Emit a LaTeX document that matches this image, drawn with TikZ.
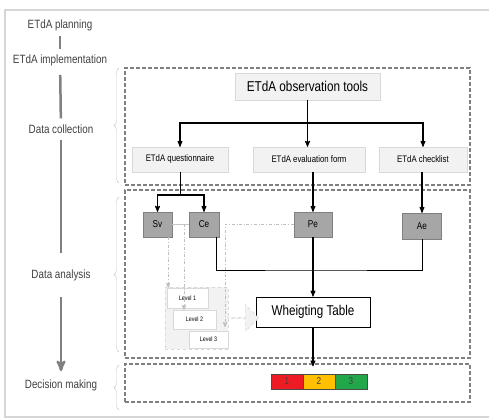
\documentclass[tikz,border=0pt]{standalone}
\usepackage{fontspec}
\setmainfont{Liberation Sans}[FakeStretch=0.82]
\usetikzlibrary{arrows,shapes,positioning,decorations.pathreplacing}

\definecolor{boxgray}{HTML}{F2F2F2}
\definecolor{boxline}{HTML}{D9D9D9}
\definecolor{darkbox}{HTML}{A6A6A6}
\definecolor{textgray}{HTML}{404040}
\definecolor{framegray}{HTML}{D6D6D6}
\definecolor{redcell}{HTML}{ED1C24}
\definecolor{yellowcell}{HTML}{FFC000}
\definecolor{greencell}{HTML}{22A84A}

\tikzset{
  stage/.style={text=textgray,font=\fontsize{12}{14}\selectfont,inner sep=0pt},
  timeline/.style={draw=gray,line width=2.5pt},
  section/.style={draw=gray,dash pattern=on 4pt off 2pt,line width=1.3pt,inner sep=0pt},
  bracket/.style={draw=gray!45,decorate,decoration={brace,amplitude=5pt}},
  tool/.style={draw=boxline,fill=boxgray,inner sep=0pt,font=\fontsize{9.5}{11}\selectfont},
  var/.style={draw=gray,fill=darkbox,inner sep=0pt,font=\fontsize{10}{12}\selectfont},
  level/.style={draw=boxline,fill=white,inner sep=0pt,font=\fontsize{6.5}{8}\selectfont},
  cell/.style={draw=gray!60!black,minimum width=32pt,minimum height=15pt,inner sep=0pt,font=\fontsize{10}{12}\selectfont,text=black!75},
  wire/.style={line width=1pt},
  link/.style={->,line width=1.1pt},
  hint/.style={->,draw=gray!50,dash dot,line width=0.8pt}
}

\begin{document}
\begin{tikzpicture}[>=stealth',x=1pt,y=-1pt]
\useasboundingbox (0,0) rectangle (489,419);
\draw[framegray,line width=1.2pt] (489,10) -| (5,417) -- (489,417);

% stages on the left
\node[stage](Plan)at(60,25){ETdA planning};
\node[stage](Impl)at(60,60){ETdA implementation};
\node[stage](Coll)at(61,129){Data collection};
\node[stage](Anal)at(61,275){Data analysis};
\node[stage](Dec)at(61,385){Decision making};
\path[timeline]
  (Plan) edge[line width=1.5pt,shorten <=5pt,shorten >=5pt] (Impl)
  (Impl) edge[shorten <=9pt,shorten >=6pt] (Coll)
  (Coll) edge[shorten <=6pt,shorten >=16pt] (Anal)
  (Anal) edge[->,shorten <=16pt,shorten >=8pt] (Dec);

% dashed sections
\node[section,minimum width=345pt,minimum height=117pt](Collect)at(297.5,126.5){};
\node[section,minimum width=345pt,minimum height=168pt](Analysis)at(297.5,274){};
\node[section,minimum width=345pt,minimum height=38pt](Decision)at(297.5,383){};
\draw[bracket] (119,183) -- (119,68);
\draw[bracket] (119,352) -- (119,197);
\draw[bracket] (119,410) -- (119,365);

% data collection
\node[tool,minimum width=145pt,minimum height=27pt,font=\fontsize{14.3}{16}\selectfont](Tools)at(307.5,86.5){ETdA observation tools};
\node[tool,minimum width=96pt,minimum height=25pt](Quest)at(180,159.5){ETdA questionnaire};
\node[tool,minimum width=112pt,minimum height=25pt](Eval)at(309,159.5){ETdA evaluation form};
\node[tool,minimum width=88pt,minimum height=25pt](Check)at(423,159.5){ETdA checklist};
\coordinate(split)at(307.5,123);
\draw[wire] (Tools) -- (split);
\draw[link] (split) -| (Quest.north);
\draw[link] (split) -| (Check.north);
\draw[link] (split) -- (split |- Eval.north);

% data analysis
\node[var,minimum width=29pt,minimum height=25pt](Sv)at(157.5,224.5){Sv};
\node[var,minimum width=30pt,minimum height=25pt](Ce)at(204,224.5){Ce};
\node[var,minimum width=38pt,minimum height=25pt](Pe)at(313,224.5){Pe};
\node[var,minimum width=39pt,minimum height=26pt](Ae)at(422,226){Ae};
\coordinate(qsplit)at(180,195);
\draw[wire] (Quest) -- (qsplit);
\draw[link] (qsplit) -| (Sv.north);
\draw[link] (qsplit) -| (Ce.north);
\draw[link] (Pe.north |- Eval.south) -- (Pe.north);
\draw[link] (Ae.north |- Check.south) -- (Ae.north);

\node[draw=black,fill=white,line width=0.9pt,minimum width=114pt,minimum height=30pt,inner sep=0pt,font=\fontsize{14.2}{16}\selectfont](WT)at(313,312){Wheigting Table};
\coordinate(merge)at(313,270);
\draw[wire] ([xshift=-3pt]Ce.south east) |- (merge) -| (Ae.south);
\draw[link] (Pe) -- (WT);

% levels
\node[draw=gray!30,dashed,fill=gray!10,minimum width=63pt,minimum height=62pt](Levels)at(196.5,318){};
\node[single arrow,draw=gray!35,dashed,fill=gray!10,minimum width=27pt,minimum height=31pt,single arrow head extend=6pt,inner sep=0pt](Push)at(243,318){};
\node[level,minimum width=41pt,minimum height=20pt](L1)at(187.5,298){Level 1};
\node[level,minimum width=43pt,minimum height=19pt](L2)at(194.5,319.5){Level 2};
\node[level,minimum width=39pt,minimum height=17pt](L3)at(208.5,339.5){Level 3};
\coordinate(svce)at(184,224.5);
\coordinate(lvl)at(225,327);
\draw[draw=gray!45,line width=0.8pt] (Sv) -- (Ce);
\draw[hint] ([xshift=-4pt]Sv.south east) -- ([xshift=-4pt]Sv.south east |- L1.north);
\draw[hint] (svce) -- (svce |- L2.north);
\draw[hint] (Pe.west) -| (lvl);

% decision
\node[cell,fill=redcell](C1)at(287,381.5){1};
\node[cell,fill=yellowcell](C2)at(319,381.5){2};
\node[cell,fill=greencell](C3)at(351,381.5){3};
\draw[link] (WT.south) -- ([yshift=-3pt]WT.south |- Decision.north);
\end{tikzpicture}
\end{document}
